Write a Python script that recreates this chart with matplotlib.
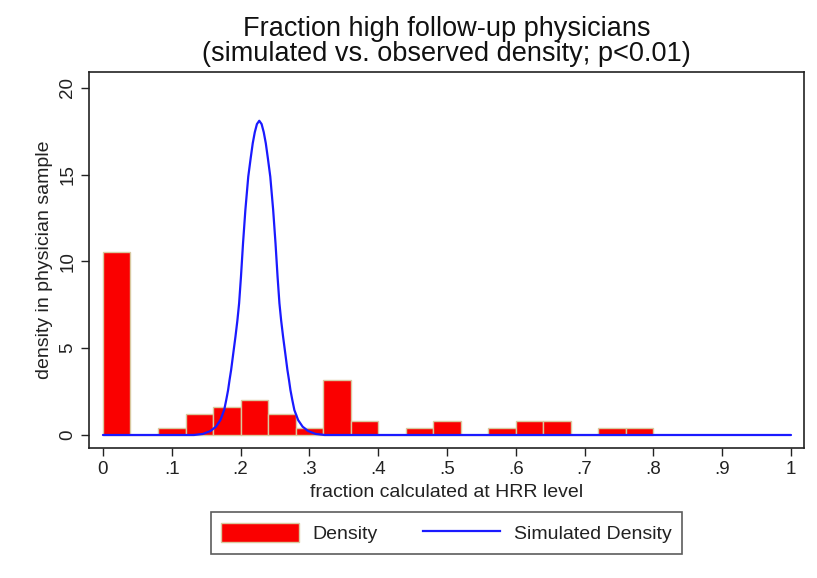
import matplotlib
matplotlib.use("Agg")
import matplotlib.pyplot as plt
from matplotlib.patches import Patch
from matplotlib.lines import Line2D

plt.rcParams['font.family'] = ['Liberation Sans', 'DejaVu Sans']

# Observed histogram: left bin edges (width 0.04) and density per bin
bin_left = [0.00, 0.04, 0.08, 0.12, 0.16, 0.20, 0.24, 0.28, 0.32, 0.36,
            0.40, 0.44, 0.48, 0.52, 0.56, 0.60, 0.64, 0.68, 0.72, 0.76]
bin_width = 0.04
density = [10.55, 0.0, 0.42, 1.22, 1.60, 2.00, 1.22, 0.42, 3.15, 0.80,
           0.0, 0.42, 0.80, 0.0, 0.42, 0.80, 0.80, 0.0, 0.42, 0.42]

# Simulated density curve
sim_x = [0.000, 0.1322, 0.1452, 0.1562, 0.1642, 0.1707, 0.1762, 0.1792,
         0.1819, 0.1840, 0.1863, 0.1894, 0.1926, 0.1954, 0.1979, 0.2006,
         0.2036, 0.2070, 0.2112, 0.2147, 0.2177, 0.2207, 0.2238, 0.2272,
         0.2306, 0.2337, 0.2367, 0.2397, 0.2432, 0.2474, 0.2508, 0.2538,
         0.2565, 0.2590, 0.2618, 0.2650, 0.2681, 0.2704, 0.2725, 0.2752,
         0.2782, 0.2837, 0.2902, 0.2982, 0.3092, 0.3222, 1.000]
sim_y = [0.0, 0.0, 0.06, 0.23, 0.48, 0.86, 1.44, 2.02,
         2.59, 3.17, 3.75, 4.70, 5.67, 6.60, 7.59, 9.12,
         11.05, 12.97, 14.89, 15.95, 16.81, 17.45, 17.92, 18.11,
         17.92, 17.45, 16.81, 15.95, 14.89, 12.97, 11.05, 9.12,
         7.59, 6.60, 5.67, 4.70, 3.75, 3.17, 2.59, 2.02,
         1.44, 0.86, 0.48, 0.23, 0.06, 0.0, 0.0]

x_ticks = [0, 0.1, 0.2, 0.3, 0.4, 0.5, 0.6, 0.7, 0.8, 0.9, 1.0]
x_tick_labels = ['0', '.1', '.2', '.3', '.4', '.5', '.6', '.7', '.8', '.9', '1']
y_ticks = [0, 5, 10, 15, 20]

bar_red = '#fa0000'
bar_edge = '#d8c9a0'
line_blue = '#1a1aff'
ink = '#222222'

fig = plt.figure(figsize=(8.17, 5.78), dpi=100)
ax = fig.add_axes([0.1089, 0.2249, 0.8752, 0.6505])

ax.bar(bin_left, density, width=bin_width, align='edge', color=bar_red,
       edgecolor=bar_edge, linewidth=1.0, zorder=2)
ax.plot(sim_x, sim_y, color=line_blue, linewidth=1.6, zorder=3,
        solid_joinstyle='round', solid_capstyle='round')

ax.set_xlim(-0.0203, 1.0189)
ax.set_ylim(-0.75, 20.92)
ax.set_xticks(x_ticks)
ax.set_xticklabels(x_tick_labels)
ax.set_yticks(y_ticks)
ax.set_yticklabels([str(v) for v in y_ticks], rotation=90, va='center')
ax.tick_params(axis='both', direction='out', length=6, width=1.0,
               labelsize=13.5, colors=ink, pad=3)

for s in ax.spines.values():
    s.set_color(ink)
    s.set_linewidth(1.2)

ax.set_xlabel('fraction calculated at HRR level', fontsize=14,
              color=ink, labelpad=5)
ax.set_ylabel('density in physician sample', fontsize=14,
              color=ink, labelpad=5)

ax.set_title('Fraction high follow-up physicians\n'
             '(simulated vs. observed density; p<0.01)',
             fontsize=19.5, color='#111111', pad=8, linespacing=0.95)

handles = [Patch(facecolor=bar_red, edgecolor=bar_edge, linewidth=1.0),
           Line2D([0], [0], color=line_blue, linewidth=1.6)]
leg = fig.legend(handles, ['Density', 'Simulated Density'], ncol=2,
                 loc='center', bbox_to_anchor=(0.5465, 0.0779),
                 fontsize=14, frameon=True, fancybox=False,
                 handlelength=4.0, handleheight=1.1, columnspacing=2.3,
                 handletextpad=0.7, borderpad=0.55, borderaxespad=0,
                 edgecolor='#333333')
leg.get_frame().set_linewidth(1.2)
for t in leg.get_texts():
    t.set_color(ink)

fig.savefig('out.png', dpi=100, facecolor='white')
